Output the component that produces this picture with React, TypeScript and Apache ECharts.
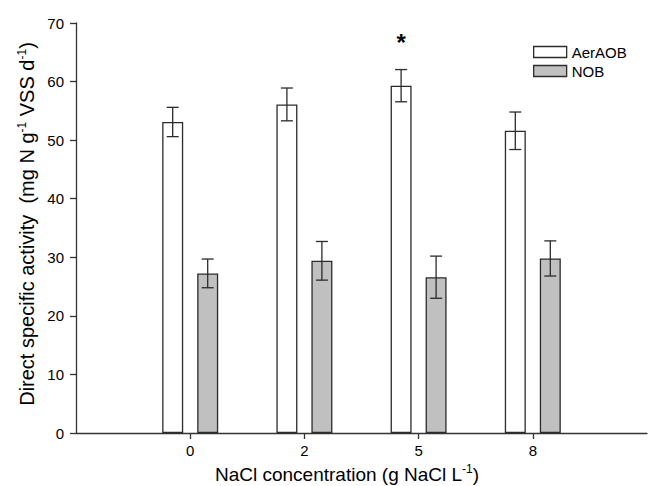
import React, { useEffect, useRef } from "react";
import * as echarts from "echarts";

const categories = ["", "0", "2", "5", "8", ""];
const aerAOB = [53.1, 56.1, 59.3, 51.6];
const aerAOBErr = [2.5, 2.8, 2.75, 3.2];
const nob = [27.25, 29.4, 26.6, 29.8];
const nobErr = [2.45, 3.3, 3.6, 3.0];
const significance = ["", "", "*", ""];
const yTicks = { min: 0, max: 70, interval: 10 };

const FONT = 'Arial, "Liberation Sans", sans-serif';
const BAR_W = 21;
const BAR_GAP = 14;
const OFFSET = (BAR_W + BAR_GAP) / 2;

function padded(arr: number[]) {
  return ["-", ...arr, "-"] as any[];
}

function errData(vals: number[], errs: number[]) {
  return vals.map((v, i) => [i + 1, v, errs[i]]);
}

function makeErr(offset: number, marks: string[] | null) {
  return (params: any, api: any) => {
    const idx = api.value(0);
    const v = api.value(1);
    const e = api.value(2);
    const top = api.coord([idx, v + e]);
    const bot = api.coord([idx, v - e]);
    const x = top[0] + offset;
    const cap = 6;
    const style = { stroke: "#2b2b2b", lineWidth: 1.3 };
    const children: any[] = [
      { type: "line", shape: { x1: x, y1: top[1], x2: x, y2: bot[1] }, style },
      { type: "line", shape: { x1: x - cap, y1: top[1], x2: x + cap, y2: top[1] }, style },
      { type: "line", shape: { x1: x - cap, y1: bot[1], x2: x + cap, y2: bot[1] }, style },
    ];
    const mark = marks ? marks[params.dataIndex] : "";
    if (mark) {
      children.push({
        type: "text",
        x: x,
        y: top[1] - 27,
        style: {
          text: mark,
          fontSize: 24,
          fontWeight: "bold",
          fontFamily: FONT,
          fill: "#000",
          align: "center",
          verticalAlign: "middle",
        },
      });
    }
    return { type: "group", children };
  };
}

export default function App() {
  const ref = useRef<HTMLDivElement>(null);
  useEffect(() => {
    if (!ref.current) return;
    const chart = echarts.init(ref.current, undefined, { renderer: "svg" });
    chart.setOption({
      animation: false,
      backgroundColor: "#fff",
      grid: { left: 76, right: 1, top: 23, bottom: 53, containLabel: false },
      legend: {
        orient: "vertical",
        left: 533,
        top: 44,
        padding: 0,
        itemWidth: 33,
        itemHeight: 11,
        itemGap: 3,
        textStyle: { fontSize: 15, lineHeight: 16, fontFamily: FONT, color: "#000" },
        data: [
          { name: "AerAOB", icon: "rect", itemStyle: { color: "#fff", borderColor: "#2b2b2b", borderWidth: 1.3 } },
          { name: "NOB", icon: "rect", itemStyle: { color: "#c0c0c0", borderColor: "#2b2b2b", borderWidth: 1.3 } },
        ],
      },
      xAxis: {
        type: "category",
        data: categories,
        boundaryGap: false,
        axisLine: { lineStyle: { color: "#333", width: 1.3 } },
        axisTick: {
          show: true,
          length: 6,
          interval: (i: number) => i >= 1 && i <= 4,
          lineStyle: { color: "#333", width: 1.3 },
        },
        axisLabel: {
          interval: 0,
          margin: 10,
          fontSize: 15,
          fontFamily: FONT,
          color: "#000",
        },
        splitLine: { show: false },
      },
      yAxis: {
        type: "value",
        min: yTicks.min,
        max: yTicks.max,
        interval: yTicks.interval,
        axisLine: { show: true, lineStyle: { color: "#333", width: 1.3 } },
        axisTick: { show: true, length: 6, lineStyle: { color: "#333", width: 1.3 } },
        axisLabel: { margin: 12, fontSize: 15, fontFamily: FONT, color: "#000" },
        splitLine: { show: false },
      },
      series: [
        {
          name: "AerAOB",
          type: "bar",
          data: padded(aerAOB),
          barWidth: BAR_W,
          barGap: (BAR_GAP / BAR_W) * 100 + "%",
          itemStyle: { color: "#fff", borderColor: "#2b2b2b", borderWidth: 1.3 },
        },
        {
          name: "NOB",
          type: "bar",
          data: padded(nob),
          barWidth: BAR_W,
          itemStyle: { color: "#c0c0c0", borderColor: "#2b2b2b", borderWidth: 1.3 },
        },
        {
          type: "custom",
          renderItem: makeErr(-OFFSET, significance),
          data: errData(aerAOB, aerAOBErr),
          z: 10,
        },
        {
          type: "custom",
          renderItem: makeErr(OFFSET, null),
          data: errData(nob, nobErr),
          z: 10,
        },
      ],
      graphic: [
        {
          type: "text",
          x: 27,
          y: 224,
          rotation: Math.PI / 2,
          style: {
            text: "Direct specific activity  (mg N g{sup|-1} VSS d{sup|-1})",
            fontSize: 20,
            fontFamily: FONT,
            fill: "#000",
            align: "center",
            verticalAlign: "middle",
            rich: {
              sup: { fontSize: 12, fontFamily: FONT, fill: "#000", padding: [0, 0, 10, 0] },
            },
          },
        },
        {
          type: "text",
          x: 347,
          y: 474,
          style: {
            text: "NaCl concentration (g NaCl L{sup|-1})",
            fontSize: 19,
            fontFamily: FONT,
            fill: "#000",
            align: "center",
            verticalAlign: "middle",
            rich: {
              sup: { fontSize: 12, fontFamily: FONT, fill: "#000", padding: [0, 0, 10, 0] },
            },
          },
        },
      ],
    });
    return () => chart.dispose();
  }, []);
  return <div ref={ref} style={{ width: 650, height: 486, position: "absolute", left: 0, top: 0 }} />;
}
